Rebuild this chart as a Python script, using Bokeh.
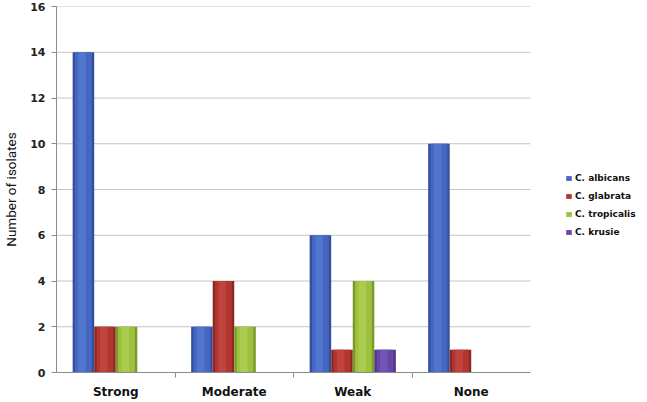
from bokeh.plotting import figure
from bokeh.models import ColumnDataSource, Range1d, FixedTicker, Legend, LegendItem
from bokeh.transform import dodge
from bokeh.embed import file_html
from bokeh.resources import INLINE

categories = ["Strong", "Moderate", "Weak", "None"]
series_names = ["C. albicans", "C. glabrata", "C. tropicalis", "C. krusie"]
albicans = [14, 2, 6, 10]
glabrata = [2, 4, 1, 1]
tropicalis = [2, 2, 4, 0]
krusie = [0, 0, 1, 0]
y_ticks = [0, 2, 4, 6, 8, 10, 12, 14, 16]

# (edge, body, highlight) shades per series
palettes = [
    ("#34509c", "#4567c2", "#5a80d8"),
    ("#8e2824", "#b2352f", "#c84f4a"),
    ("#7c982c", "#9dc03e", "#b4d65c"),
    ("#4f3689", "#6548a6", "#7c5fbd"),
]

x = [i + 0.5 for i in range(len(categories))]
src = ColumnDataSource(dict(x=x, cat=categories, s0=albicans, s1=glabrata,
                            s2=tropicalis, s3=krusie))

LABEL_FONT = "DejaVu Sans"
TITLE_FONT = "Roboto"
FIG_W, LEFT = 631, 50
PLOT_W = 474          # pixel width of the category area
FRAME_W = FIG_W - LEFT
ncat = len(categories)
x_end = ncat * FRAME_W / PLOT_W

p = figure(frame_width=FRAME_W, frame_height=366, output_backend="svg",
           toolbar_location=None,
           x_range=Range1d(0, x_end), y_range=Range1d(0, 16),
           min_border_left=LEFT, min_border_top=6, min_border_bottom=22,
           min_border_right=0)
p.outline_line_color = None
p.background_fill_color = "white"
p.border_fill_color = "white"
p.xgrid.grid_line_color = None
p.ygrid.grid_line_color = None

# horizontal grid lines limited to the category area
p.segment(x0=0, x1=ncat, y0=y_ticks, y1=y_ticks, line_color="#c4c4c4", line_width=1)

n = len(series_names)
bw = 1.0 / (n + 1.5)
items = []
for k, name in enumerate(series_names):
    col = "s%d" % k
    off = (k - (n - 1) / 2.0) * bw
    edge, body, hi = palettes[k]
    p.vbar(x=dodge("x", off, range=p.x_range), top=col, bottom=0, width=bw,
           source=src, fill_color=edge, line_color=None)
    r = p.vbar(x=dodge("x", off, range=p.x_range), top=col, bottom=0, width=bw * 0.78,
               source=src, fill_color=body, line_color=None)
    p.vbar(x=dodge("x", off - bw * 0.06, range=p.x_range), top=col, bottom=0,
           width=bw * 0.35, source=src, fill_color=hi, line_color=None, fill_alpha=0.6)
    items.append(LegendItem(label=name, renderers=[r]))

legend = Legend(items=items, location=(509, 133), orientation="vertical")
legend.label_text_font = LABEL_FONT
legend.label_text_font_style = "bold"
legend.label_text_font_size = "9px"
legend.label_text_color = "#111111"
legend.glyph_width = 7
legend.glyph_height = 6
legend.label_height = 14
legend.spacing = 4
legend.padding = 0
legend.margin = 0
legend.label_standoff = 3
legend.border_line_color = None
legend.background_fill_alpha = 0
p.add_layout(legend, "center")

# y axis
ya = p.yaxis[0]
ya.ticker = FixedTicker(ticks=y_ticks)
ya.axis_label = "Number of isolates"
ya.axis_label_text_font = TITLE_FONT
ya.axis_label_text_font_style = "normal"
ya.axis_label_text_font_size = "13.5px"
ya.axis_label_text_color = "#111111"
ya.axis_label_standoff = 8
ya.major_label_text_font = LABEL_FONT
ya.major_label_text_font_style = "bold"
ya.major_label_text_font_size = "11px"
ya.major_label_text_color = "#222222"
ya.major_label_standoff = 6
ya.major_tick_out = 5
ya.major_tick_in = 0
ya.minor_tick_line_color = None
ya.axis_line_color = "#8c8c8c"
ya.major_tick_line_color = "#8c8c8c"

# x axis
xa = p.xaxis[0]
xa.bounds = (0, ncat)
xa.ticker = FixedTicker(ticks=x, minor_ticks=[i for i in range(1, ncat)])
xa.major_label_overrides = {xv: c for xv, c in zip(x, categories)}
xa.major_label_text_font = LABEL_FONT
xa.major_label_text_font_style = "bold"
xa.major_label_text_font_size = "12px"
xa.major_label_text_color = "#111111"
xa.major_label_standoff = 7
xa.major_tick_out = 0
xa.major_tick_in = 0
xa.minor_tick_out = 5
xa.minor_tick_in = 0
xa.minor_tick_line_color = "#8c8c8c"
xa.axis_line_color = "#8c8c8c"

open("out.html", "w").write(file_html(p, INLINE))
